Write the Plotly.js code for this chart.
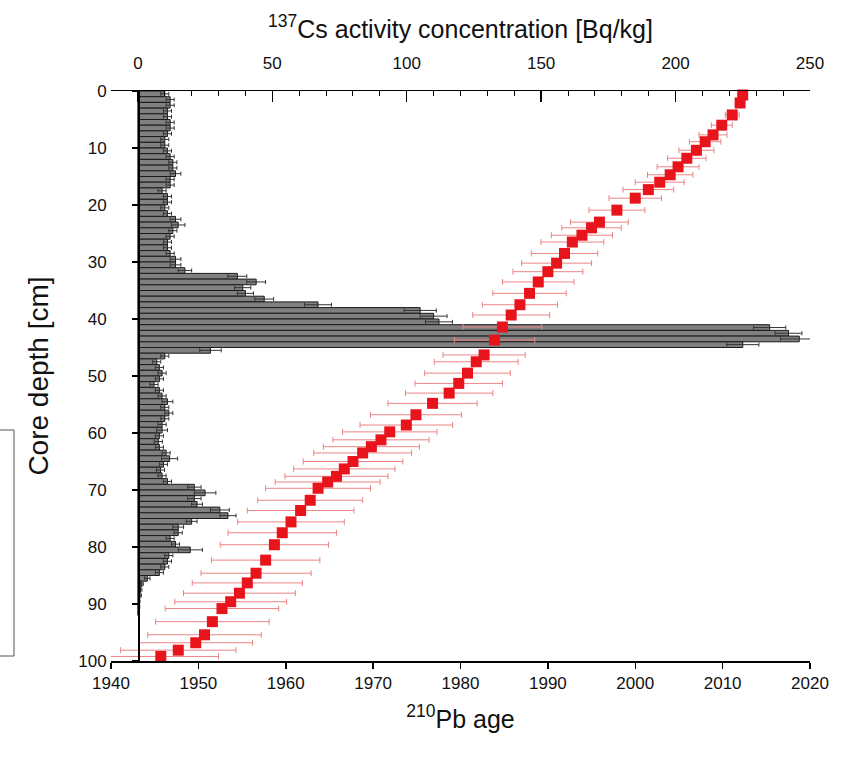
<!DOCTYPE html>
<html>
<head>
<meta charset="utf-8">
<script src="https://cdn.plot.ly/plotly-3.0.1.min.js"></script>
<style>html,body{margin:0;padding:0;background:#fff;}#chart{width:858px;height:757px;}</style>
</head>
<body>
<div id="chart"></div>
<script>
// 137Cs activity concentration per 1 cm slice (depth bin start, cm)
const csDepthStart = [];
for (let i = 0; i < 92; i++) csDepthStart.push(i);
const csActivity = [
  10,12,12,11,11,12,12,11,10,10,
  11,12,13,13,14,12,12,9,11,11,
  10,11,14,15,13,12,11,11,12,14,
  14,17.5,37,44,39,40,47,67,105,110,
  112,235,242,246,225,27,10,7,8,9,
  8,6,8,9,11,10,11.5,10,9,9,
  8,7.6,8,10.5,11.8,9.5,8.4,9,11,21,
  25,21,22,30.5,33.5,20,15,15,12,14,
  19.5,11.5,11,10,8,3.5,1.5,1,0.8,0.5,
  0.4,0.3
];
const csError = [
  1.5,1.5,1.5,1.5,1.5,1.5,1.5,1.5,1.5,1.5,
  1.5,1.5,1.5,1.5,2,1.5,1.5,1.5,1.5,1.5,
  1.5,1.5,2,2.5,1.5,1.5,1.5,1.5,1.5,2,
  2,2.5,3.5,3.5,3,3,3.5,5,6,5,
  5,6,5,7,6,4,1.5,1.5,1.5,1.5,
  1.5,1.5,1.5,1.5,2,1.5,1.5,1.5,1.5,2,
  1.5,1.5,1.5,1.5,3,1.5,1.5,1.5,1.5,2.5,
  4,2.5,2,3.5,3,2,2,1.5,1.5,1.5,
  4.5,1.5,1.5,1.5,1.5,1,0.5,0.5,0.5,0.3,
  0.3,0.3
];
const csDepth = csDepthStart.map(d => d + 0.5);

// 210Pb ages
const pbDepth = [
  0.7,2.1,4.2,6.0,7.7,8.9,10.4,11.8,13.3,14.7,
  16.0,17.3,18.8,20.9,23.0,24.0,25.3,26.5,28.5,30.2,
  31.7,33.5,35.5,37.5,39.3,41.4,43.7,46.3,47.5,49.5,
  51.3,53.0,54.8,56.8,58.6,59.8,61.2,62.4,63.5,65.0,
  66.3,67.6,68.6,69.7,71.8,73.6,75.6,77.5,79.6,82.3,
  84.6,86.3,88.1,89.6,90.8,93.1,95.4,96.8,98.1,99.2
];
const pbAge = [
  2012.3,2012.0,2011.1,2009.9,2008.9,2008.0,2007.0,2005.9,2004.9,2004.0,
  2002.8,2001.5,2000.0,1997.9,1995.9,1995.0,1993.9,1992.8,1991.9,1991.0,
  1990.0,1988.9,1987.9,1986.8,1985.8,1984.8,1983.9,1982.7,1981.8,1980.8,
  1979.8,1978.7,1976.8,1974.9,1973.8,1971.9,1970.9,1969.8,1968.8,1967.7,
  1966.7,1965.8,1964.8,1963.7,1962.8,1961.7,1960.6,1959.6,1958.7,1957.7,
  1956.6,1955.6,1954.7,1953.7,1952.7,1951.6,1950.7,1949.7,1947.7,1945.7
];
const pbError = [
  0.3,0.4,0.8,1.2,1.6,1.8,2.0,2.2,2.4,2.6,
  2.8,2.9,3.0,3.2,3.3,3.4,3.5,3.6,3.8,4.0,
  4.0,4.1,4.2,4.3,4.4,4.5,4.6,4.7,4.8,4.9,
  5.0,5.0,5.1,5.2,5.3,5.4,5.5,5.5,5.6,5.7,
  5.8,5.9,6.0,6.0,6.0,6.1,6.1,6.2,6.2,6.2,
  6.3,6.3,6.4,6.4,6.5,6.5,6.5,6.5,6.6,6.6
];

const FONT = "Liberation Sans, Arial, sans-serif";

const traces = [
  {
    type: 'bar', orientation: 'h',
    x: csActivity, y: csDepth, width: 1,
    xaxis: 'x', yaxis: 'y',
    marker: {color: '#808080', line: {color: '#1a1a1a', width: 1}},
    error_x: {type: 'data', array: csError, visible: true, color: '#333', thickness: 1, width: 2},
    showlegend: false, hoverinfo: 'skip'
  },
  {
    type: 'scatter', mode: 'markers',
    x: pbAge, y: pbDepth,
    xaxis: 'x2', yaxis: 'y',
    marker: {symbol: 'square', size: 11, color: '#e8141c'},
    error_x: {type: 'data', array: pbError, visible: true, color: '#ec8484', thickness: 1, width: 3},
    showlegend: false, hoverinfo: 'skip', cliponaxis: false
  }
];

const layout = {
  width: 858, height: 757,
  margin: {l: 111, r: 48, t: 91, b: 96},
  paper_bgcolor: '#fff', plot_bgcolor: 'rgba(0,0,0,0)',
  font: {family: FONT, color: '#111', size: 17},
  bargap: 0,
  xaxis: {
    range: [-10, 250], tick0: 0, dtick: 50,
    side: 'top', anchor: 'y',
    showline: true, linecolor: '#000', linewidth: 1.5,
    ticks: 'inside', ticklen: 11, tickcolor: '#000', tickwidth: 1.5,
    minor: {dtick: 10, tick0: 0, ticks: 'inside', ticklen: 5, tickcolor: '#000', tickwidth: 1},
    ticklabelstandoff: 14,
    showgrid: false, zeroline: false,
    tickfont: {size: 17, family: FONT},
    title: {text: '<sup>137</sup>Cs activity concentration [Bq/kg]', font: {size: 25, family: FONT}, standoff: 8}
  },
  xaxis2: {
    range: [1940, 2020], tick0: 1940, dtick: 10,
    overlaying: 'x', side: 'bottom', anchor: 'y',
    showline: true, linecolor: '#000', linewidth: 1.5,
    ticks: 'outside', ticklen: 6, tickcolor: '#000', tickwidth: 1.5,
    showgrid: false, zeroline: false,
    tickfont: {size: 17, family: FONT},
    title: {text: '<sup>210</sup>Pb age', font: {size: 25, family: FONT}, standoff: 18}
  },
  yaxis: {
    range: [100, 0], tick0: 0, dtick: 10,
    anchor: 'free', position: (138 - 111) / 699,
    showline: true, linecolor: '#000', linewidth: 1.5,
    ticks: 'outside', ticklen: 6, tickcolor: '#000', tickwidth: 1.5,
    ticklabelstandoff: 22,
    showgrid: false, zeroline: false,
    tickfont: {size: 17, family: FONT},
    title: {text: 'Core depth [cm]', font: {size: 28, family: FONT}, standoff: 20}
  },
  shapes: [
    {type: 'rect', xref: 'paper', yref: 'paper',
     x0: (-2 - 111) / 699, x1: (14 - 111) / 699,
     y0: (661 - 656) / 570, y1: (661 - 430) / 570,
     line: {color: '#555', width: 1}, fillcolor: 'rgba(0,0,0,0)'}
  ]
};

Plotly.newPlot('chart', traces, layout, {staticPlot: true, displayModeBar: false});
</script>
</body>
</html>
